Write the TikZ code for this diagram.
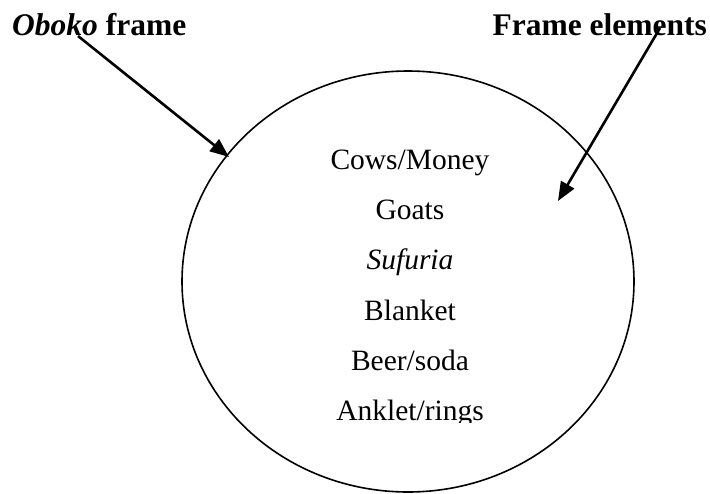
\documentclass[tikz,border=0pt]{standalone}
\usepackage{fontspec}
\setmainfont{Liberation Serif}
\usetikzlibrary{arrows.meta,shapes.geometric}

\tikzset{
  title/.style={font=\fontsize{31.5}{37}\selectfont\bfseries, inner sep=0pt, anchor=base},
  item/.style={font=\fontsize{29.5}{35}\selectfont, inner sep=0pt, anchor=base},
  pointer/.style={line width=2.6pt, -{Triangle[length=19pt,width=15pt]}},
  framering/.style={ellipse, draw, line width=1.6pt, inner sep=0pt}
}

\begin{document}
\begin{tikzpicture}[x=1pt,y=-1pt]
  \useasboundingbox (0,0) rectangle (710,493);
  \clip (0,0) rectangle (710,493);

  % the frame itself
  \node[framering, minimum width=452pt, minimum height=421pt] (frame) at (408,281.5) {};

  % headings
  \node[title, anchor=base west] (oboko) at (12,35) {\textit{Oboko} frame};
  \node[title, anchor=base east] (elements) at (707,35) {Frame elements};

  % elements listed inside the frame (last line cut by its text box)
  \begin{scope}
    \clip (200,120) rectangle (620,422.5);
    \node[item] (cows)    at (410,169.5) {Cows/Money};
    \node[item] (goats)   at (410,219.5) {Goats};
    \node[item] (sufuria) at (410,269.5) {\textit{Sufuria}};
    \node[item] (blanket) at (410,320)   {Blanket};
    \node[item] (beer)    at (410,370.5) {Beer/soda};
    \node[item] (anklet)  at (410,420.5) {Anklet/rings};
  \end{scope}

  % pointers from the headings
  \coordinate (oboko-tail) at (78,36);
  \coordinate (oboko-tip) at (229,157);
  \coordinate (elements-tail) at (660,28);
  \coordinate (elements-tip) at (558,201);
  \draw[pointer] (oboko-tail) -- (oboko-tip);
  \draw[pointer] (elements-tail) -- (elements-tip);
\end{tikzpicture}
\end{document}
